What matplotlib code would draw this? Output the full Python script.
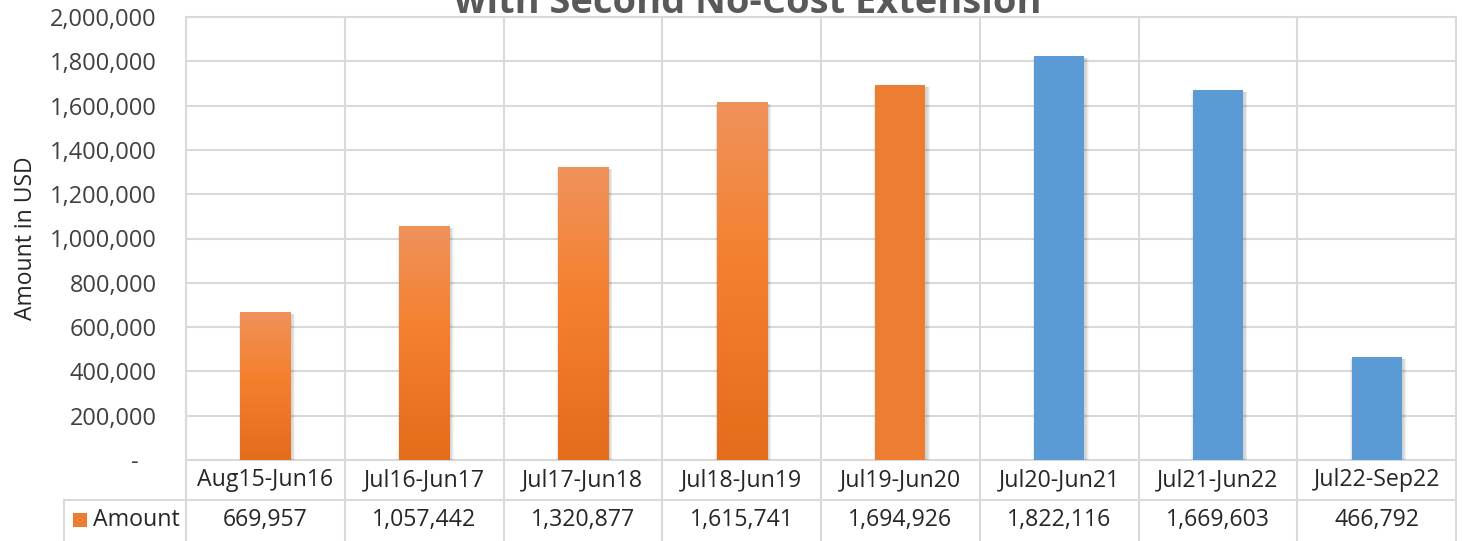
import matplotlib
matplotlib.use("Agg")
import matplotlib.pyplot as plt
import matplotlib.transforms as mtransforms
from matplotlib.patches import Rectangle
from matplotlib.ticker import FuncFormatter, MultipleLocator
import numpy as np

# ---- data ----
categories = ["Aug15-Jun16", "Jul16-Jun17", "Jul17-Jun18", "Jul18-Jun19",
              "Jul19-Jun20", "Jul20-Jun21", "Jul21-Jun22", "Jul22-Sep22"]
amounts = [669957, 1057442, 1320877, 1615741, 1694926, 1822116, 1669603, 466792]
series_name = "Amount"
title_text = "with Second No-Cost Extension"
y_label = "Amount in USD"

# ---- styles ----
bar_styles = ["gradient", "gradient", "gradient", "gradient",
              "orange", "blue", "blue", "blue"]
ORANGE = "#ED7D31"
BLUE = "#5B9BD5"
GRID = "#D9D9D9"
TXT = "#262626"
FONT = ["Open Sans", "DejaVu Sans"]

plt.rcParams["font.family"] = FONT

W, H = 1462, 541
fig = plt.figure(figsize=(W / 100, H / 100), dpi=100)
L, R, T, B = 186, 1456, 17, 460
ax = fig.add_axes([L / W, (H - B) / H, (R - L) / W, (B - T) / H])

n = len(categories)
x = np.arange(n)
bw = 0.315
ax.set_xlim(-0.5, n - 0.5)
ax.set_ylim(0, 2000000)

px_x = 1.0 / ((R - L) / n)
px_y = 2000000 / (B - T)

# gradient image
stops = np.array([[240, 146, 92], [244, 128, 45], [228, 108, 26]]) / 255.0
pos = np.array([0.0, 0.45, 1.0])
tt = np.linspace(0, 1, 256)
grad = np.stack([np.interp(tt, pos, stops[:, c]) for c in range(3)], axis=-1)
grad = grad[:, None, :]

for xi, v, st in zip(x, amounts, bar_styles):
    x0 = xi - bw / 2
    # soft shadow
    for k in range(1, 6):
        sh = Rectangle((x0 + 1.5 * px_x - k * px_x * 0.6, -k * px_y * 0.6),
                       bw + 2 * k * px_x * 0.6, v + k * px_y * 0.6 - 2 * px_y,
                       facecolor="black", edgecolor="none", alpha=0.035, zorder=2)
        ax.add_patch(sh)
    if st == "gradient":
        rect = Rectangle((x0, 0), bw, v, facecolor="none", edgecolor="none", zorder=3)
        ax.add_patch(rect)
        im = ax.imshow(grad, extent=[x0, x0 + bw, 0, v], aspect="auto",
                       zorder=3, interpolation="bilinear")
        im.set_clip_path(rect)
    else:
        col = ORANGE if st == "orange" else BLUE
        ax.bar(xi, v, width=bw, color=col, zorder=3)

ax.set_xlim(-0.5, n - 0.5)
ax.set_ylim(0, 2000000)

# grid
ax.yaxis.set_major_locator(MultipleLocator(200000))
ax.grid(axis="y", color=GRID, linewidth=1.5, zorder=1)
ax.set_xticks([])
for s in ax.spines.values():
    s.set_visible(False)
ax.tick_params(axis="y", length=0, pad=21, labelsize=17, labelcolor="#404040")
ax.yaxis.set_major_formatter(FuncFormatter(lambda v, p: "-   " if v == 0 else f"{int(v):,}"))
ax.set_ylabel(y_label, fontsize=16.5, color=TXT)
ax.yaxis.set_label_coords(-(L - 38) / (R - L), 0.5)

# table lines
trans = mtransforms.blended_transform_factory(ax.transData, ax.transAxes)
ah = B - T
y_top = 1.0
y_h1 = 0.0
y_h2 = -(500 - B) / ah
y_bot = -(H - B + 5) / ah
for k in range(n + 1):
    ax.plot([k - 0.5, k - 0.5], [y_bot, y_top], transform=trans, color=GRID,
            lw=1.5, clip_on=False, zorder=1)
ax.plot([-0.5, n - 0.5], [y_top, y_top], transform=trans, color=GRID, lw=1.5, clip_on=False, zorder=1)
ax.plot([-0.5, n - 0.5], [y_h1, y_h1], transform=trans, color=GRID, lw=1.5, clip_on=False, zorder=1)
xl = -(L - 64) / (R - L)
ax.plot([xl, 1.0], [y_h2, y_h2], transform=ax.transAxes, color=GRID, lw=1.5, clip_on=False, zorder=1)
ax.plot([xl, xl], [y_h2, y_bot], transform=ax.transAxes, color=GRID, lw=1.5, clip_on=False, zorder=1)

yc1 = -(480 - B) / ah
yc2 = -(520 - B) / ah
for xi, c, v in zip(x, categories, amounts):
    ax.text(xi, yc1, c, transform=trans, ha="center", va="center", fontsize=16.7, color=TXT)
    ax.text(xi, yc2, f"{v:,}", transform=trans, ha="center", va="center", fontsize=16.7, color=TXT)

# legend key in table
kx = -(L - 73) / (R - L)
kw = 14 / (R - L)
khh = 14 / ah
ax.add_patch(Rectangle((kx, yc2 - khh / 2), kw, khh, transform=ax.transAxes,
                       facecolor=ORANGE, edgecolor="none", clip_on=False))
ax.text(-(L - 93) / (R - L), yc2, series_name, transform=ax.transAxes, ha="left",
        va="center", fontsize=16.7, color=TXT)

# title (cut off at top, as in the reference)
fig.text(748 / W, 1 - 13 / H, title_text, ha="center", va="baseline",
         fontsize=27.4, fontweight="bold", color="#595959")

fig.savefig("out.png", dpi=100)
